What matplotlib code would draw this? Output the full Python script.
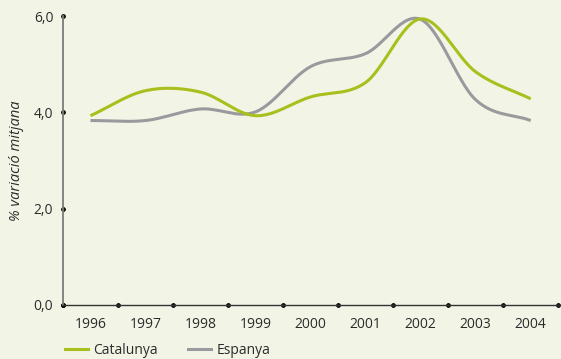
import numpy as np
import matplotlib.pyplot as plt
from matplotlib.lines import Line2D

# dades: % variació mitjana anual
years = ["1996", "1997", "1998", "1999", "2000", "2001", "2002", "2003", "2004"]
catalunya = [3.93, 4.45, 4.42, 3.93, 4.32, 4.62, 5.94, 4.84, 4.28]
espanya = [3.83, 3.83, 4.07, 4.01, 4.95, 5.22, 5.93, 4.26, 3.83]

green = "#a9bf1d"
grey = "#9a9a9e"
bg = "#f2f5e6"


def smooth(y, n=30):
    # corba suau (Catmull-Rom) que passa per tots els punts
    y = np.asarray(y, dtype=float)
    x = np.arange(len(y), dtype=float)
    p = np.concatenate([[2 * y[0] - y[1]], y, [2 * y[-1] - y[-2]]])
    xs, ys = [], []
    for i in range(len(y) - 1):
        p0, p1, p2, p3 = p[i], p[i + 1], p[i + 2], p[i + 3]
        t = np.linspace(0, 1, n, endpoint=False)
        v = 0.5 * ((2 * p1) + (-p0 + p2) * t + (2 * p0 - 5 * p1 + 4 * p2 - p3) * t ** 2
                   + (-p0 + 3 * p1 - 3 * p2 + p3) * t ** 3)
        xs.append(x[i] + t)
        ys.append(v)
    xs.append([x[-1]])
    ys.append([y[-1]])
    return np.concatenate(xs), np.concatenate(ys)


plt.rcParams["font.family"] = ["Open Sans", "DejaVu Sans"]

fig = plt.figure(figsize=(5.61, 3.59), dpi=100, facecolor=bg)
ax = fig.add_axes([63 / 561, 54 / 359, 498 / 561, 289 / 359], facecolor=bg)

xc, yc = smooth(catalunya)
xe, ye = smooth(espanya)
ax.plot(xe, ye, color=grey, lw=2.2, solid_capstyle="butt")
ax.plot(xc, yc, color=green, lw=2.2, solid_capstyle="butt")

ax.set_xlim(-0.5, 8.55)
ax.set_ylim(0, 6)

for s in ["top", "right"]:
    ax.spines[s].set_visible(False)
ax.spines["left"].set_color("#7b7b78")
ax.spines["left"].set_linewidth(1.3)
ax.spines["bottom"].set_color("#333333")
ax.spines["bottom"].set_linewidth(1.0)

# eix y
ax.set_yticks([0, 2, 4, 6])
ax.set_yticklabels(["0,0", "2,0", "4,0", "6,0"])
ax.tick_params(axis="y", length=0, pad=7, labelsize=10, labelcolor="#2b2b2b")
for t in ax.yaxis.get_major_ticks():
    t.tick1line.set_marker("o")
    t.tick1line.set_markersize(2.6)
    t.tick1line.set_color("#222222")
    t.tick1line.set_clip_on(False)

# eix x: punts a les separacions, anys al centre
ax.set_xticks(np.arange(len(years) + 1) - 0.5)
ax.set_xticklabels([])
ax.set_xticks(np.arange(len(years)), minor=True)
ax.set_xticklabels(years, minor=True)
ax.tick_params(axis="x", which="minor", length=0, pad=9, labelsize=10, labelcolor="#2b2b2b")
for t in ax.xaxis.get_major_ticks():
    t.tick1line.set_marker("o")
    t.tick1line.set_markersize(2.6)
    t.tick1line.set_color("#222222")
    t.tick1line.set_clip_on(False)

fig.text(17 / 561, (359 - 161) / 359, "% variació mitjana", rotation=90, style="italic",
         fontsize=10.5, color="#2b2b2b", ha="center", va="center")

handles = [Line2D([], [], color=green, lw=2.2), Line2D([], [], color=grey, lw=2.2)]
fig.legend(handles, ["Catalunya", "Espanya"], loc="center left",
           bbox_to_anchor=(65 / 561, (359 - 350) / 359), ncol=2, frameon=False,
           fontsize=10, handlelength=1.66, handletextpad=0.36, columnspacing=2.2,
           labelcolor="#2b2b2b", borderaxespad=0, borderpad=0)

fig.savefig("out.png", dpi=100, facecolor=bg)
